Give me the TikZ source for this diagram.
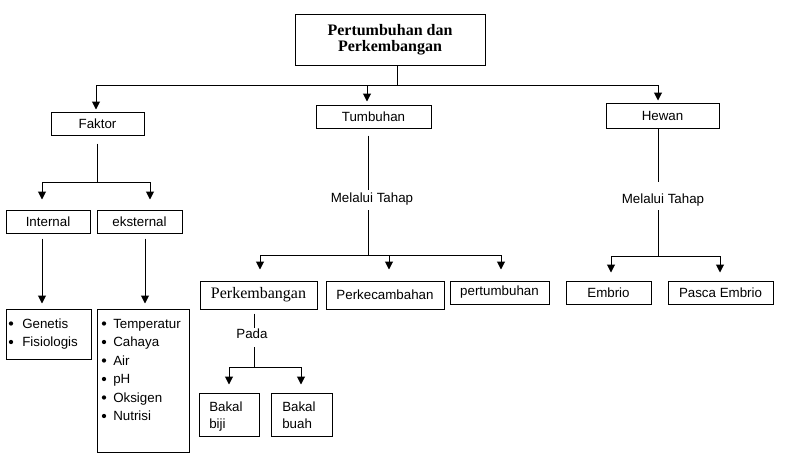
\documentclass[tikz,border=0pt]{standalone}
\usepackage{fontspec}
\setmainfont{Liberation Sans}
\newfontfamily\tnr{Liberation Serif}
\usetikzlibrary{arrows.meta}
\begin{document}
\begin{tikzpicture}[x=0.75pt,y=-0.75pt,
  box/.style={draw, line width=0.75pt, inner sep=0pt, font=\fontsize{10}{12}\selectfont},
  lbl/.style={inner sep=0pt, text height=7.5pt, text depth=2pt, font=\fontsize{10}{12}\selectfont},
  ln/.style={line width=0.75pt},
  arr/.style={line width=0.75pt, -{Triangle[length=6pt,width=6pt]}},
]
\useasboundingbox (0,0) rectangle (797,458);

% boxes
\node[box, minimum width=142.5pt, minimum height=38.25pt, align=center,
      font=\tnr\bfseries\fontsize{12}{12}\selectfont] (top) at (390,39.5) {Pertumbuhan dan\\Perkembangan};
\node[box, minimum width=69.75pt, minimum height=17.25pt] (faktor) at (97.5,123.5) {Faktor};
\node[box, minimum width=86.25pt, minimum height=17.25pt] (tumbuhan) at (373.5,116.5) {Tumbuhan};
\node[box, minimum width=84.75pt, minimum height=18.75pt] (hewan) at (662.5,115.5) {Hewan};
\node[box, minimum width=63pt, minimum height=17.25pt] (internal) at (48,221.5) {Internal};
\node[box, minimum width=63.75pt, minimum height=17.25pt] (eksternal) at (139.5,221.5) {eksternal};
\node[box, minimum width=63.75pt, minimum height=37.5pt] (genetis) at (48.5,334) {};
\node[box, minimum width=69pt, minimum height=107.25pt] (eksbox) at (143,380.5) {};
\node[box, minimum width=87.75pt, minimum height=21pt, font=\tnr\fontsize{12}{12}\selectfont] (perkembangan) at (258.5,295) {Perkembangan};
\node[box, minimum width=88.5pt, minimum height=21pt] (perkecambahan) at (385,295) {Perkecambahan\hspace{4pt}};
\node[box, minimum width=74.25pt, minimum height=17.25pt] (pertumbuhan) at (499.5,292.5) {pertumbuhan};
\node[box, minimum width=63.75pt, minimum height=17.25pt] (embrio) at (608.5,292.5) {Embrio};
\node[box, minimum width=78.75pt, minimum height=17.25pt] (pasca) at (720.5,292.5) {Pasca Embrio};
\node[box, minimum width=45pt, minimum height=32.25pt] (bakalbiji) at (229,414.5) {};
\node[box, minimum width=45.75pt, minimum height=32.25pt] (bakalbuah) at (301.5,414.5) {};

% labels
\node[lbl] (mt1) at (372,199.3) {Melalui Tahap};
\node[lbl] (mt2) at (663,200.3) {Melalui Tahap};
\node[lbl] (pada) at (252,334.6) {Pada};

% list texts
\node[lbl, anchor=base west] (g1) at (22,328) {Genetis};
\node[lbl, anchor=base west] (g2) at (22,346.5) {Fisiologis};
\foreach \y in {328,346.5} \fill (11,\y-4.5) circle (1.6pt);
\node[lbl, anchor=base west] (e1) at (113,328) {Temperatur};
\node[lbl, anchor=base west] (e2) at (113,346.5) {Cahaya};
\node[lbl, anchor=base west] (e3) at (113,365) {Air};
\node[lbl, anchor=base west] (e4) at (113,383.5) {pH};
\node[lbl, anchor=base west] (e5) at (113,402) {Oksigen};
\node[lbl, anchor=base west] (e6) at (113,420.5) {Nutrisi};
\foreach \y in {328,346.5,365,383.5,402,420.5} \fill (104,\y-4.5) circle (1.6pt);
\node[lbl, anchor=base west] (bb1) at (209,411.7) {Bakal};
\node[lbl, anchor=base west] (bb2) at (209,428) {biji};
\node[lbl, anchor=base west] (bu1) at (282,411.7) {Bakal};
\node[lbl, anchor=base west] (bu2) at (282,428) {buah};

% top connectors
\coordinate (j0) at (397,85);
\coordinate (bL) at (96,85);
\coordinate (bM) at (367,85);
\coordinate (bR) at (658,85);
\draw[ln] (top.south -| j0) -- (j0);
\draw[ln] (bL) -- (bR);
\draw[arr, shorten >=1.5pt] (bL) -- (faktor.north -| bL);
\draw[arr, shorten >=2.25pt] (bM) -- (tumbuhan.north -| bM);
\draw[arr, shorten >=1.5pt] (bR) -- (hewan.north -| bR);

% faktor
\coordinate (fj) at (97,182);
\coordinate (fL) at (42,182);
\coordinate (fR) at (150,182);
\coordinate (ex) at (145,0);
\draw[ln, shorten <=6pt] (faktor.south -| fj) -- (fj);
\draw[ln] (fL) -- (fR);
\draw[arr, shorten >=7.5pt] (fL) -- (internal.north -| fL);
\draw[arr, shorten >=7.5pt] (fR) -- (eksternal.north -| fR);
\draw[arr, shorten <=3.75pt, shorten >=3.75pt] (internal.south -| fL) -- (genetis.north -| fL);
\draw[arr, shorten <=3.75pt, shorten >=3.75pt] (eksternal.south -| ex) -- (eksbox.north -| ex);

% tumbuhan
\coordinate (tx) at (368,0);
\coordinate (tj) at (368,255);
\coordinate (tL) at (260,255);
\coordinate (tM) at (389,255);
\coordinate (tR) at (501,255);
\draw[ln, shorten <=5.25pt, shorten >=2.25pt] (tumbuhan.south -| tx) -- (mt1.north -| tx);
\draw[ln, shorten <=3.2pt] (mt1.south -| tx) -- (tj);
\draw[ln] (tL) -- (tR);
\draw[arr, shorten >=8.25pt] (tL) -- (perkembangan.north -| tL);
\draw[arr, shorten >=8.25pt] (tM) -- (perkecambahan.north -| tM);
\draw[arr, shorten >=8.25pt] (tR) -- (pertumbuhan.north -| tR);

% hewan
\coordinate (hx) at (658,0);
\coordinate (hj) at (658,256);
\coordinate (hL) at (611,256);
\coordinate (hR) at (720,256);
\draw[ln, shorten >=9pt] (hewan.south -| hx) -- (mt2.north -| hx);
\draw[ln, shorten <=2.5pt] (mt2.south -| hx) -- (hj);
\draw[ln] (hL) -- (hR);
\draw[arr, shorten >=6pt] (hL) -- (embrio.north -| hL);
\draw[arr, shorten >=6pt] (hR) -- (pasca.north -| hR);

% perkembangan
\coordinate (px) at (254,0);
\coordinate (pj) at (254,367);
\coordinate (pL) at (229,367);
\coordinate (pR) at (301,367);
\draw[ln, shorten <=3pt] (perkembangan.south -| px) -- (pada.north -| px);
\draw[ln, shorten <=4.5pt] (pada.south -| px) -- (pj);
\draw[ln] (pL) -- (pR);
\draw[arr, shorten >=6pt] (pL) -- (bakalbiji.north -| pL);
\draw[arr, shorten >=6pt] (pR) -- (bakalbuah.north -| pR);
\end{tikzpicture}
\end{document}
